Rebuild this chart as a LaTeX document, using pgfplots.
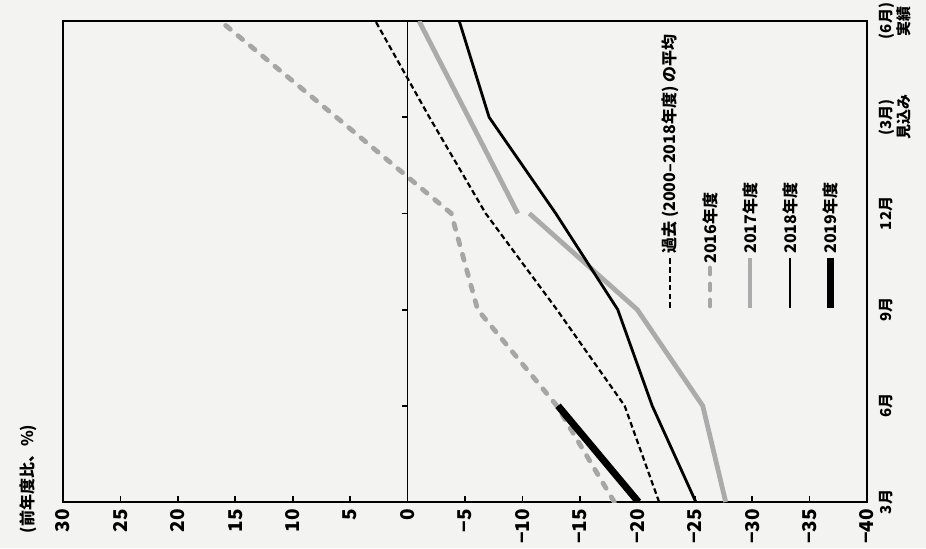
\documentclass[border=0pt]{standalone}
\usepackage{pgfplots}
\pgfplotsset{compat=1.18}
\usepackage{fontspec}
\setmainfont{Noto Sans CJK JP}
\definecolor{bg}{HTML}{F3F3F1}
\definecolor{g16}{HTML}{A6A6A6}
\definecolor{g17}{HTML}{ABABAB}
\begin{document}
\begin{tikzpicture}
\path[use as bounding box] (-31.5pt,-23pt) rectangle (431.5pt,251pt);
\fill[bg] (-31.5pt,-23pt) rectangle (431.5pt,251pt);
\begin{axis}[
  at={(0,0)}, anchor=south west,
  scale only axis, width=402pt, height=240.5pt,
  xmin=-40, xmax=30, x dir=reverse,
  ymin=0, ymax=5,
  xtick={-40,-35,...,30},
  xticklabels={−40,−35,−30,−25,−20,−15,−10,−5,0,5,10,15,20,25,30},
  xtick pos=left, tick align=inside,
  major tick length=3pt,
  tick style={line width=0.8pt, black},
  xticklabel style={rotate=90, anchor=east, font=\fontsize{9.5}{10}\selectfont\bfseries},
  ytick={0,...,5},
  yticklabels={3月,6月,9月,12月,{(3月)\\見込み},{(6月)\\実績}},
  yticklabel pos=right,
  ytick style={draw=none},
  yticklabel shift=2.5pt,
  yticklabel style={rotate=90, anchor=north, align=center, font=\fontsize{7.5}{7}\selectfont\bfseries},
  axis line style={line width=1pt},
]
\addplot[black, line width=1.1pt, dash pattern=on 2.8pt off 1.6pt] coordinates {
  (-21.9,0) (-18.9,1) (-13.0,2) (-6.8,3) (-1.9,4) (2.8,5)};
\addplot[g16, line width=2.4pt, dash pattern=on 3pt off 5pt, line cap=round] coordinates {
  (-18.0,0) (-13.0,1) (-6.1,2) (-3.8,3) (6.2,4) (16.3,5)};
\addplot[g17, line width=2.4pt, unbounded coords=jump] coordinates {
  (-27.7,0) (-25.7,1) (-20.0,2) (-10.6,3) (nan,3) (-9.6,3) (-5.3,4) (-1.0,5)};
\addplot[black, line width=1.4pt] coordinates {
  (-25.1,0) (-21.3,1) (-18.3,2) (-12.9,3) (-7.1,4) (-4.5,5)};
\addplot[black, line width=3.5pt] coordinates {
  (-20.1,0) (-13.1,1)};
\draw[line width=0.9pt] (axis cs:0,0) -- (axis cs:0,5);
\draw[line width=0.9pt] (axis cs:0,1) -- ++(-3pt,0pt);
\draw[line width=0.9pt] (axis cs:0,2) -- ++(-3pt,0pt);
\draw[line width=0.9pt] (axis cs:0,3) -- ++(-3pt,0pt);
\draw[line width=0.9pt] (axis cs:0,4) -- ++(-3pt,0pt);
\end{axis}
% legend (rotated, as in the reference)
\begin{scope}[every node/.style={rotate=90, anchor=west, inner sep=1pt, font=\fontsize{8}{9.5}\selectfont\bfseries}]
\draw[black, line width=1.1pt, dash pattern=on 2.8pt off 1.6pt] (303.5pt,97pt) -- (303.5pt,122pt);
\node at (303.5pt,123pt) {過去 (2000–2018年度) の平均};
\draw[g16, line width=2.4pt, dash pattern=on 3pt off 5pt, line cap=round] (323.5pt,98pt) -- (323.5pt,117pt);
\node at (323.5pt,118pt) {2016年度};
\draw[g17, line width=2.4pt] (343.5pt,97pt) -- (343.5pt,122pt);
\node at (343.5pt,123pt) {2017年度};
\draw[black, line width=1.4pt] (363.5pt,97pt) -- (363.5pt,122pt);
\node at (363.5pt,123pt) {2018年度};
\draw[black, line width=3.5pt] (383.5pt,97pt) -- (383.5pt,122pt);
\node at (383.5pt,123pt) {2019年度};
\end{scope}
\node[rotate=90, font=\fontsize{8}{9}\selectfont\bfseries] at (-17.5pt,11.5pt) {(前年度比、\%)};
\end{tikzpicture}
\end{document}
